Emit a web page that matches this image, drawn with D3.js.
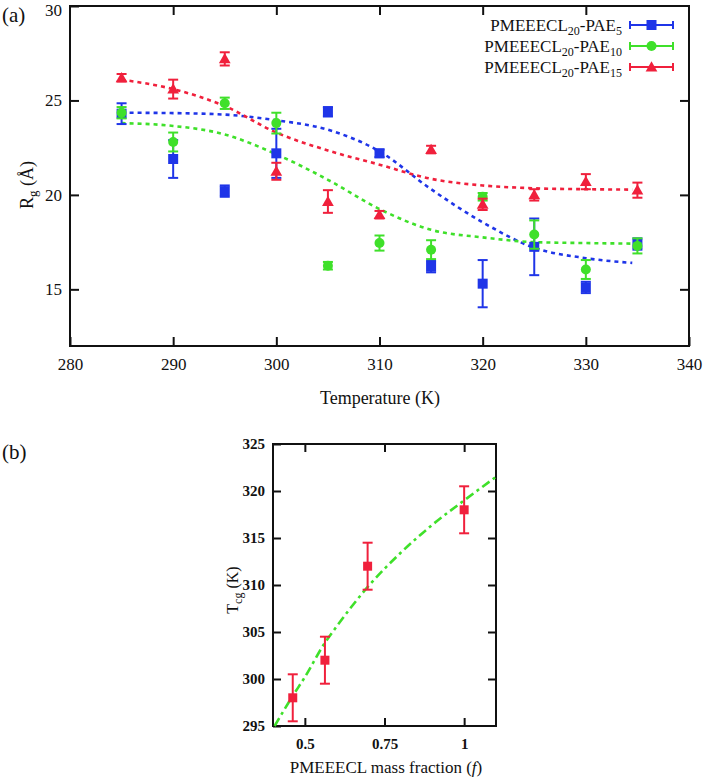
<!DOCTYPE html>
<html>
<head>
<meta charset="utf-8">
<script src="https://cdn.jsdelivr.net/npm/d3@7"></script>
<style>
  body { margin: 0; background: #fff; }
  svg text { font-family: "Liberation Serif", "Times New Roman", Times, Tinos, "DejaVu Serif", "Noto Serif", serif; fill: #111; }
</style>
</head>
<body>
<svg id="chart" width="708" height="780"></svg>
<script>
// panel (a): Rg vs temperature
var temps = [285, 290, 295, 300, 305, 310, 315, 320, 325, 330, 335]
var pae5 = [24.3, 21.9, 20.2, 22.2, 24.4, 22.2, 16.2, 15.3, 17.25, 15.1, 17.4]
var pae5Err = [0.55, 1.0, 0.3, 1.3, 0.25, 0.2, 0.3, 1.25, 1.5, 0.3, 0.3]
var pae10 = [24.35, 22.8, 24.85, 23.8, 16.25, 17.45, 17.1, 19.9, 17.9, 16.05, 17.3]
var pae10Err = [0.3, 0.5, 0.3, 0.55, 0.2, 0.4, 0.5, 0.2, 0.75, 0.5, 0.4]
var pae15 = [26.2, 25.6, 27.2, 21.25, 19.65, 18.95, 22.4, 19.5, 20.0, 20.7, 20.25]
var pae15Err = [0.2, 0.5, 0.35, 0.45, 0.6, 0.2, 0.2, 0.3, 0.3, 0.4, 0.4]

// fitted curves
var fitT = [285, 290, 295, 300, 305, 310, 315, 320, 325, 330, 334.5]
var fit5 = [24.35, 24.33, 24.25, 23.95, 23.45, 22.3, 20.3, 18.55, 17.2, 16.65, 16.4]
var fit10 = [23.8, 23.65, 23.2, 22.15, 20.8, 19.25, 18.15, 17.75, 17.5, 17.45, 17.42]
var fit15 = [26.1, 25.6, 24.7, 23.3, 22.35, 21.6, 20.85, 20.5, 20.35, 20.3, 20.28]

var xTicksA = [280, 290, 300, 310, 320, 330, 340]
var yTicksA = [15, 20, 25, 30]

// panel (b): Tcg vs mass fraction
var fraction = [0.462, 0.563, 0.697, 1.0]
var tcg = [298, 302, 312, 318]
var tcgErr = [2.5, 2.5, 2.5, 2.5]
var fitF = [0.405, 0.46, 0.5, 0.56, 0.6, 0.7, 0.8, 0.9, 1.0, 1.1]
var fitTcg = [295, 298.1, 300.2, 303.7, 305.6, 309.9, 313.4, 316.4, 319.0, 321.5]

var xTicksB = [0.5, 0.75, 1]
var yTicksB = [295, 300, 305, 310, 315, 320, 325]

var blue = '#1f35e8', green = '#3fe02a', red = '#f0203c'
var serif = '"Liberation Serif", "Times New Roman", Times, Tinos, "DejaVu Serif", serif'

var svg = d3.select('#chart')

// ---------- panel a ----------
var x = d3.scaleLinear().domain([280, 340]).range([70, 689])
var y = d3.scaleLinear().domain([12, 30]).range([346, 6])

var ga = svg.append('g')

function inward(axis, size) {
  return axis.tickSizeInner(-size).tickSizeOuter(0)
}

ga.append('g')
  .attr('transform', 'translate(0,' + y(12) + ')')
  .call(inward(d3.axisBottom(x), 9).tickValues(xTicksA).tickFormat(d3.format('d')).tickPadding(12))
ga.append('g')
  .attr('transform', 'translate(0,' + y(30) + ')')
  .call(inward(d3.axisTop(x), 9).tickValues(xTicksA.slice(1, -1)).tickFormat(''))
ga.append('g')
  .attr('class', 'yaxis-a')
  .attr('transform', 'translate(' + x(280) + ',0)')
  .call(inward(d3.axisLeft(y), 9).tickValues(yTicksA).tickPadding(8))
ga.append('g')
  .attr('transform', 'translate(' + x(340) + ',0)')
  .call(inward(d3.axisRight(y), 9).tickValues(yTicksA.slice(0, -1)).tickFormat(''))

ga.selectAll('g').attr('font-family', serif)
ga.selectAll('.tick text').attr('font-size', 17).attr('fill', '#111')
ga.selectAll('.tick line').attr('stroke', '#111').attr('stroke-width', 2)
ga.selectAll('.domain').remove()
// top label sits a little lower so it is not clipped
ga.select('.yaxis-a').selectAll('.tick text').filter(function(d) { return d === 30 }).attr('y', 4)

ga.append('rect')
  .attr('x', x(280)).attr('y', y(30))
  .attr('width', x(340) - x(280)).attr('height', y(12) - y(30))
  .attr('fill', 'none').attr('stroke', '#111').attr('stroke-width', 2)

var seriesA = [
  {name: '5', vals: pae5, errs: pae5Err, fit: fit5, color: blue, shape: 'square'},
  {name: '10', vals: pae10, errs: pae10Err, fit: fit10, color: green, shape: 'circle'},
  {name: '15', vals: pae15, errs: pae15Err, fit: fit15, color: red, shape: 'triangle'}
]

var line = d3.line().curve(d3.curveMonotoneX)

seriesA.forEach(function(s) {
  ga.append('path')
    .attr('d', line(fitT.map(function(t, i) { return [x(t), y(s.fit[i])] })))
    .attr('fill', 'none')
    .attr('stroke', s.color)
    .attr('stroke-width', 2.6)
    .attr('stroke-dasharray', '4,4')
})

function marker(g, shape, cx, cy, color) {
  if (shape === 'square') {
    g.append('rect').attr('x', cx - 5).attr('y', cy - 5).attr('width', 10).attr('height', 10).attr('fill', color)
  } else if (shape === 'circle') {
    g.append('circle').attr('cx', cx).attr('cy', cy).attr('r', 5).attr('fill', color)
  } else {
    g.append('path').attr('d', d3.symbol(d3.symbolTriangle, 60)()).attr('transform', 'translate(' + cx + ',' + (cy + 1) + ')').attr('fill', color)
  }
}

function errorBar(g, cx, lo, hi, color, cap) {
  g.append('line').attr('x1', cx).attr('x2', cx).attr('y1', lo).attr('y2', hi).attr('stroke', color).attr('stroke-width', 2)
  ;[lo, hi].forEach(function(yy) {
    g.append('line').attr('x1', cx - cap).attr('x2', cx + cap).attr('y1', yy).attr('y2', yy).attr('stroke', color).attr('stroke-width', 2)
  })
}

seriesA.forEach(function(s) {
  var gs = ga.append('g')
  temps.forEach(function(t, i) {
    errorBar(gs, x(t), y(s.vals[i] - s.errs[i]), y(s.vals[i] + s.errs[i]), s.color, 5)
    marker(gs, s.shape, x(t), y(s.vals[i]), s.color)
  })
})

// legend
var legend = ga.append('g')
seriesA.forEach(function(s, i) {
  var ly = 25 + i * 21
  var t = legend.append('text').attr('x', 622).attr('y', ly + 6).attr('text-anchor', 'end').attr('font-size', 17)
  t.append('tspan').text('PMEEECL')
  t.append('tspan').attr('font-size', 12).attr('dy', 4).text('20')
  t.append('tspan').attr('dy', -4).text('-PAE')
  t.append('tspan').attr('font-size', 12).attr('dy', 4).text(s.name)
  legend.append('line').attr('x1', 630).attr('x2', 673).attr('y1', ly).attr('y2', ly).attr('stroke', s.color).attr('stroke-width', 2)
  ;[630, 673].forEach(function(lx) {
    legend.append('line').attr('x1', lx).attr('x2', lx).attr('y1', ly - 4).attr('y2', ly + 4).attr('stroke', s.color).attr('stroke-width', 2)
  })
  marker(legend, s.shape, 651.5, ly, s.color)
})

ga.append('text').attr('x', 380).attr('y', 404).attr('text-anchor', 'middle').attr('font-size', 18).text('Temperature (K)')

var yl = ga.append('text')
  .attr('transform', 'translate(33,185) rotate(-90)')
  .attr('text-anchor', 'middle').attr('font-size', 18)
yl.append('tspan').text('R')
yl.append('tspan').attr('font-size', 13).attr('dy', 4).text('g')
yl.append('tspan').attr('dy', -4).text(' (Å)')

svg.append('text').attr('x', 2).attr('y', 22).attr('font-size', 21).text('(a)')

// ---------- panel b ----------
var xb = d3.scaleLinear().domain([0.4, 1.1]).range([273, 496])
var yb = d3.scaleLinear().domain([295, 325]).range([726, 444])

var gb = svg.append('g')

gb.append('g')
  .attr('transform', 'translate(0,' + yb(295) + ')')
  .call(inward(d3.axisBottom(xb), 8).tickValues(xTicksB).tickFormat(function(d) { return String(d) }).tickPadding(12))
gb.append('g')
  .attr('transform', 'translate(0,' + yb(325) + ')')
  .call(inward(d3.axisTop(xb), 8).tickValues(xTicksB).tickFormat(''))
gb.append('g')
  .attr('transform', 'translate(' + xb(0.4) + ',0)')
  .call(inward(d3.axisLeft(yb), 8).tickValues(yTicksB).tickPadding(8))
gb.append('g')
  .attr('transform', 'translate(' + xb(1.1) + ',0)')
  .call(inward(d3.axisRight(yb), 8).tickValues(yTicksB.slice(1, -1)).tickFormat(''))

gb.selectAll('g').attr('font-family', serif)
gb.selectAll('.tick text').attr('font-size', 15).attr('fill', '#111').attr('font-weight', 'bold')
gb.selectAll('.tick line').attr('stroke', '#111').attr('stroke-width', 2)
gb.selectAll('.domain').remove()

gb.append('rect')
  .attr('x', xb(0.4)).attr('y', yb(325))
  .attr('width', xb(1.1) - xb(0.4)).attr('height', yb(295) - yb(325))
  .attr('fill', 'none').attr('stroke', '#111').attr('stroke-width', 2)

gb.append('path')
  .attr('d', line(fitF.map(function(f, i) { return [xb(f), yb(fitTcg[i])] })))
  .attr('fill', 'none')
  .attr('stroke', green)
  .attr('stroke-width', 2.6)
  .attr('stroke-dasharray', '9,4,3,4')

fraction.forEach(function(f, i) {
  errorBar(gb, xb(f), yb(tcg[i] - tcgErr[i]), yb(tcg[i] + tcgErr[i]), red, 5)
  gb.append('rect').attr('x', xb(f) - 4.5).attr('y', yb(tcg[i]) - 4.5).attr('width', 9).attr('height', 9).attr('fill', red)
})

var xlb = gb.append('text').attr('x', 386).attr('y', 773).attr('text-anchor', 'middle').attr('font-size', 17)
xlb.append('tspan').text('PMEEECL mass fraction (')
xlb.append('tspan').attr('font-style', 'italic').text('f')
xlb.append('tspan').text(')')

var ylb = gb.append('text')
  .attr('transform', 'translate(238,590) rotate(-90)')
  .attr('text-anchor', 'middle').attr('font-size', 16)
ylb.append('tspan').text('T')
ylb.append('tspan').attr('font-size', 12).attr('dy', 4).text('cg')
ylb.append('tspan').attr('dy', -4).text(' (K)')

svg.append('text').attr('x', 2).attr('y', 459).attr('font-size', 21).text('(b)')
</script>
</body>
</html>
